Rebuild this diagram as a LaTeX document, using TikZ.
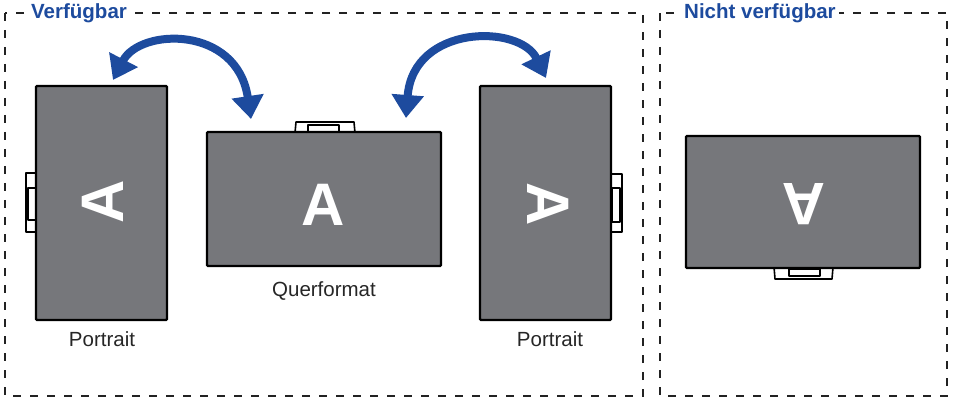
\documentclass[tikz,border=0pt]{standalone}
\usepackage{fontspec}
\setmainfont{Liberation Sans}
\usetikzlibrary{arrows.meta}
\definecolor{scrgray}{HTML}{76777B}
\definecolor{titleblue}{HTML}{1D4B9E}
\definecolor{framecol}{HTML}{222222}
\tikzset{
  frame/.style={draw=framecol, line width=1.6pt, dash pattern=on 8pt off 9pt},
  titletext/.style={fill=white, text=titleblue, font=\fontsize{20.5}{22}\selectfont\bfseries, inner sep=3pt, anchor=west},
  screen/.style={draw=black, fill=scrgray, line width=2.4pt, rounded corners=1pt, inner sep=0pt},
  letter/.style={text=white, font=\fontsize{60}{60}\selectfont\bfseries, inner sep=0pt, text height=43pt, text depth=0pt},
  tab/.style={draw=black, fill=white, line width=1.6pt, line join=round},
  caption/.style={font=\fontsize{20.5}{22}\selectfont, text=black!85, inner sep=0pt},
  bluearrow/.style={draw=titleblue, line width=8pt, {Triangle[length=23pt,width=31pt]}-{Triangle[length=23pt,width=31pt]}}
}
\begin{document}
\begin{tikzpicture}[x=1pt,y=-1pt]
\useasboundingbox (0,0) rectangle (955,398);
% frames
\draw[frame] (5,13) rectangle (643,396);
\draw[frame] (660,13) rectangle (947,396);
\node[titletext] (t1) at (28,13) {Verfügbar};
\node[titletext] (t2) at (681,13) {Nicht verfügbar};
% tabs (behind screens)
\draw[tab] (37,173) -- (26,173) -- (26,232) -- (37,232);
\draw[tab] (28,188) rectangle (36,220);
\draw[tab] (295,133) -- (296,122) -- (354,122) -- (355,133);
\draw[tab] (308,125) rectangle (339,132);
\draw[tab] (610,174) -- (622,174) -- (622,232) -- (610,232);
\draw[tab] (612,188) rectangle (620,222);
\draw[tab] (774,267) -- (775,279) -- (832,279) -- (833,267);
\draw[tab] (789,269) rectangle (820,276);
% screens
\node[screen, minimum width=131pt, minimum height=234pt] (pl) at (101.5,203) {};
\node[screen, minimum width=234pt, minimum height=134pt] (ls) at (324,199) {};
\node[screen, minimum width=131pt, minimum height=234pt] (pr) at (545.5,203) {};
\node[screen, minimum width=234pt, minimum height=132pt] (na) at (803,202) {};
% letters
\node[letter, rotate=90] (al) at (101.5,202) {A};
\node[letter] (am) at (323.5,204) {A};
\node[letter, rotate=-90] (ar) at (549,204) {A};
\node[letter, rotate=180] (an) at (803.5,205.5) {A};
% captions
\node[caption] (c1) at (102,339) {Portrait};
\node[caption] (c2) at (324,291) {Querformat};
\node[caption] (c3) at (550,339) {Portrait};
% arrows
\coordinate (l1) at (113,80);
\coordinate (l2) at (251,119);
\coordinate (r1) at (406,118);
\coordinate (r2) at (546,78);
\draw[bluearrow] (l1) .. controls (140,28) and (237,25) .. (l2);
\draw[bluearrow] (r1) .. controls (413,24) and (520,24) .. (r2);
\end{tikzpicture}
\end{document}
